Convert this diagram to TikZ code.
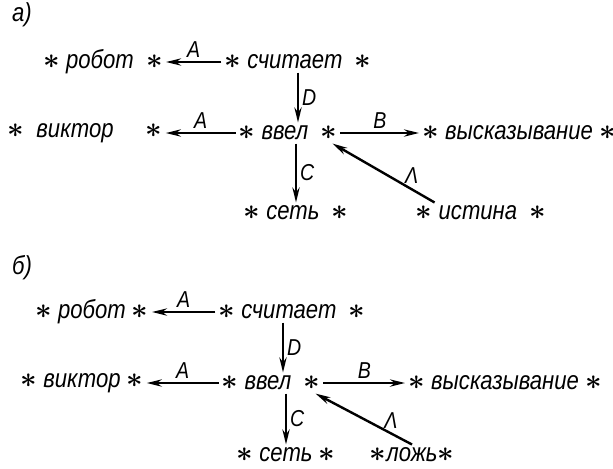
\documentclass[tikz,border=0pt]{standalone}
\usepackage{fontspec}
\setmainfont{Liberation Sans}[FakeStretch=0.85]
\usetikzlibrary{arrows.meta}
\newcommand{\st}{{\Large\boldmath$\ast$}}

\begin{document}
\begin{tikzpicture}[x=0.5pt, y=-0.5pt,
    font=\fontsize{13}{14}\selectfont\itshape,
    word/.style={inner sep=1.5pt},
    arr/.style={line width=1.2pt, -{Stealth[length=7.5pt,width=3.6pt]}},
    lbl/.style={inner sep=1.5pt, font=\fontsize{11.5}{12}\selectfont\itshape}]
  \useasboundingbox (0,0) rectangle (613,468);
  % a)
  \node (tagA) at (22,15) {а)};
  \node[word] (robotA)  at (103,62)  {\st\ робот \ \st};
  \node[word] (schitA)  at (298,62)  {\st\ считает \ \st};
  \node[word] (viktorA) at (85,133)  {\st\ \ виктор \quad\st};
  \node[word] (vvelA)   at (288,133) {\st\ ввел \ \st};
  \node[word] (vyskA)   at (519,133) {\st\ высказывание \st};
  \node[word] (setA)    at (296,213) {\st\ сеть \ \st};
  \node[word] (istA)    at (481,213) {\st\ истина \ \st};
  \draw[arr] (schitA) -- (robotA) node[lbl, midway, above] {A};
  \draw[arr] (schitA.south) -- (schitA.south |- vvelA.north) node[lbl, midway, right] {D};
  \draw[arr] (vvelA) -- (viktorA) node[lbl, midway, above] {A};
  \draw[arr] (vvelA) -- (vyskA) node[lbl, midway, above] {B};
  \draw[arr] (setA.north |- vvelA.south) -- (setA.north) node[lbl, midway, right] {C};
  \draw[arr] ([xshift=11pt]istA.north west) -- ([xshift=-4pt]vvelA.south east)
    node[lbl, pos=0.3, above right, inner sep=0pt] {Λ};
  % б)
  \node (tagB) at (22,268) {б)};
  \node[word] (robotB)  at (92,312)  {\st\ робот \st};
  \node[word] (schitB)  at (292,312) {\st\ считает \ \st};
  \node[word] (viktorB) at (82,383)  {\st\ виктор \st};
  \node[word] (vvelB)   at (271,383) {\st\ ввел \ \st};
  \node[word] (vyskB)   at (505,383) {\st\ высказывание \st};
  \node[word] (setB)    at (286,455) {\st\ сеть \st};
  \node[word] (lozhB)   at (412,455) {\st ложь\st};
  \draw[arr] (schitB) -- (robotB) node[lbl, midway, above] {A};
  \draw[arr] ([xshift=-4.5pt]schitB.south) -- ([xshift=-4.5pt]schitB.south |- vvelB.north)
    node[lbl, midway, right] {D};
  \draw[arr] (vvelB) -- (viktorB) node[lbl, midway, above] {A};
  \draw[arr] (vvelB) -- (vyskB) node[lbl, midway, above] {B};
  \draw[arr] (setB.north |- vvelB.south) -- (setB.north) node[lbl, midway, right] {C};
  \draw[arr] (lozhB.north) -- ([xshift=-4pt]vvelB.south east)
    node[lbl, pos=0.3, above right, inner sep=0pt] {Λ};
\end{tikzpicture}
\end{document}
